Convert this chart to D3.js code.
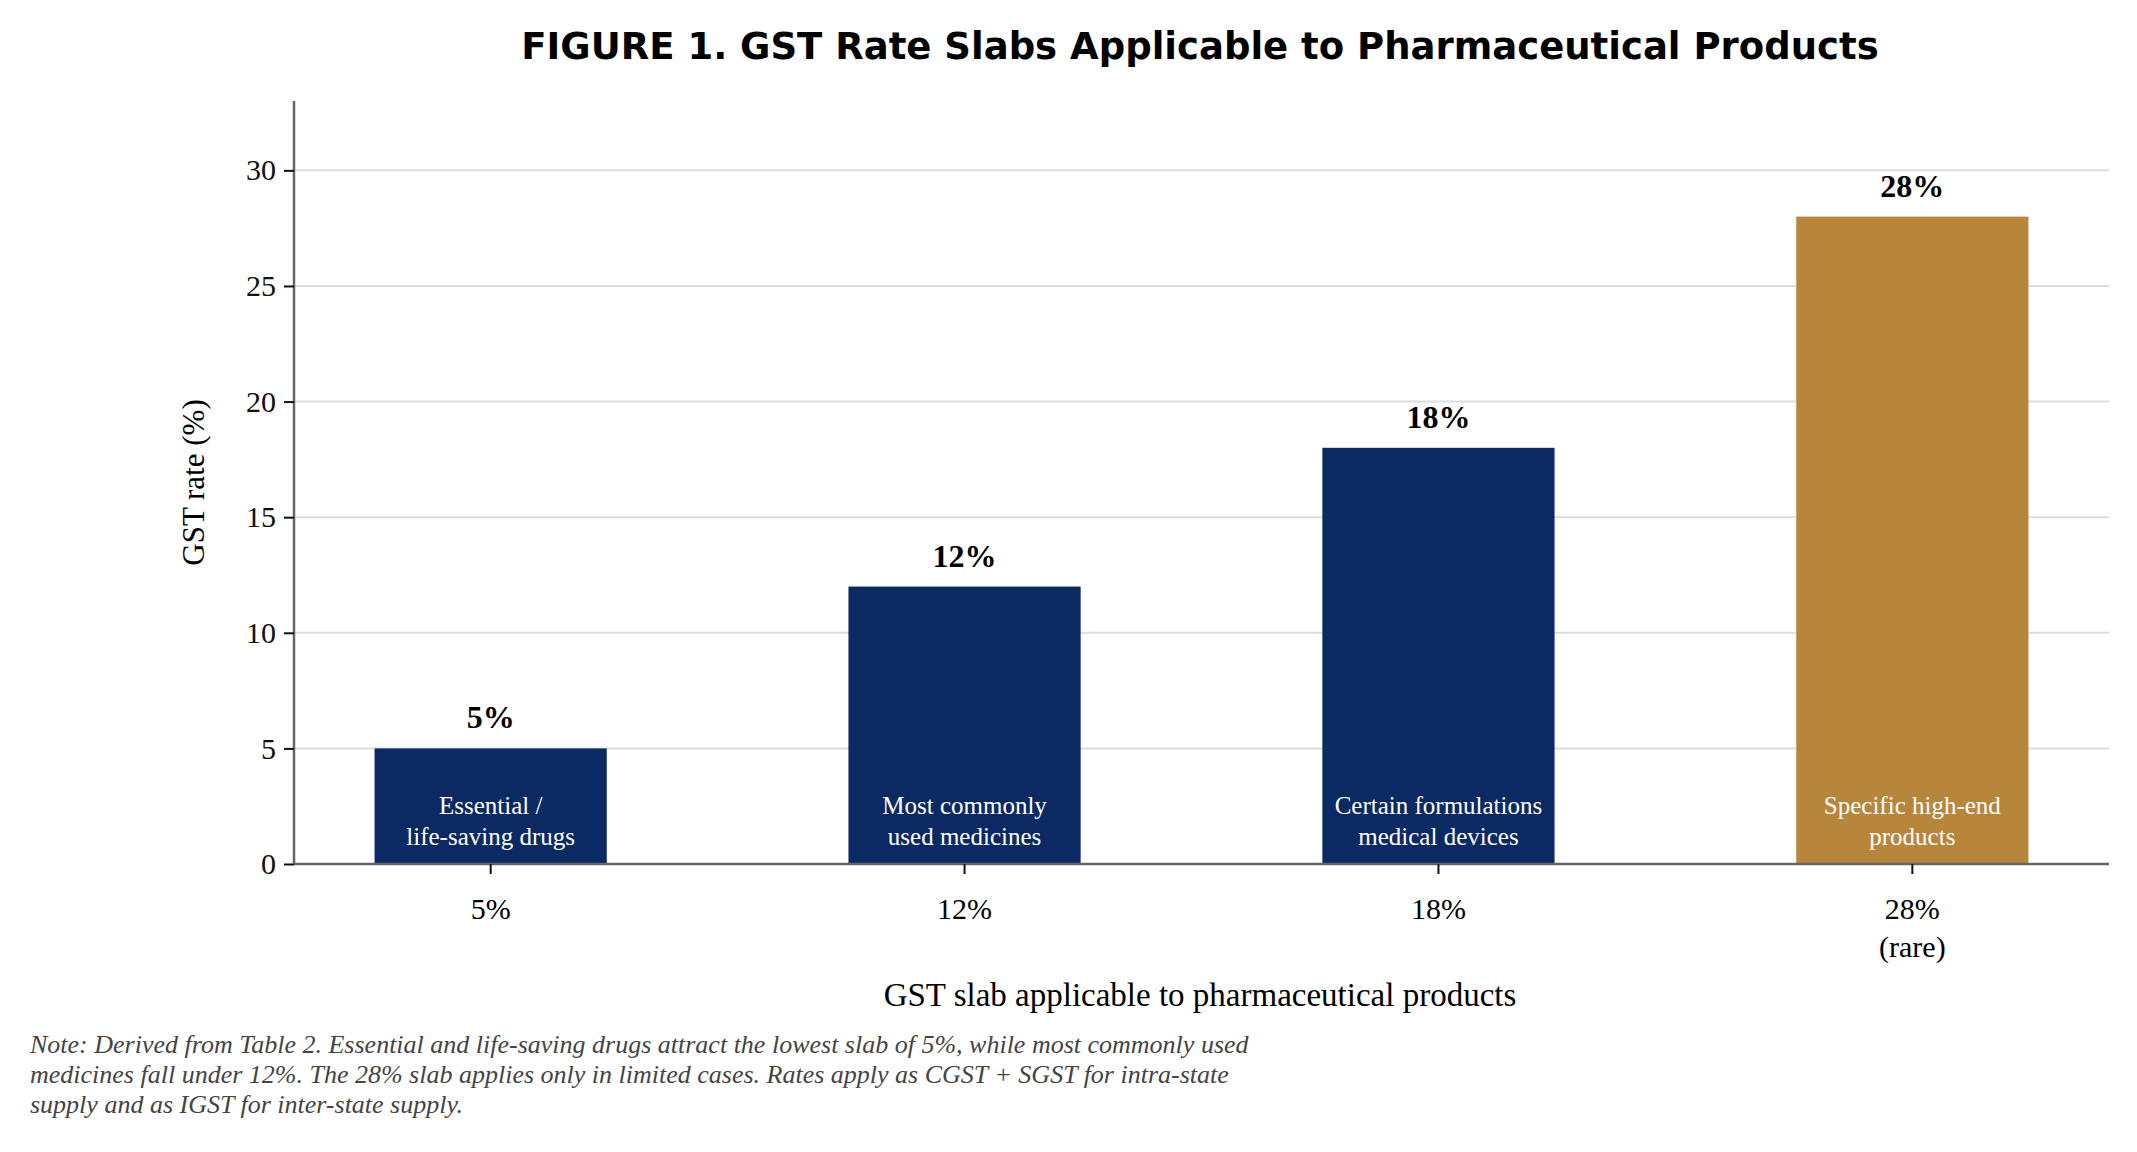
<!DOCTYPE html>
<html>
<head>
<meta charset="utf-8">
<script src="https://cdn.jsdelivr.net/npm/d3@7"></script>
<style>
  body { margin: 0; background: #fff; }
  text { font-family: "Liberation Serif", "DejaVu Serif", serif; }
</style>
</head>
<body>
<div id="chart"></div>
<script>
// data
let slabs = ['5%', '12%', '18%', '28%'];
let slabSub = ['', '', '', '(rare)'];
let rates = [5, 12, 18, 28];
let descLine1 = ['Essential /', 'Most commonly', 'Certain formulations', 'Specific high-end'];
let descLine2 = ['life-saving drugs', 'used medicines', 'medical devices', 'products'];
let barColors = ['#0b2a63', '#0b2a63', '#0b2a63', '#b8863b'];
let yTicks = [0, 5, 10, 15, 20, 25, 30];
let noteLines = [
    'Note: Derived from Table 2. Essential and life-saving drugs attract the lowest slab of 5%, while most commonly used',
    'medicines fall under 12%. The 28% slab applies only in limited cases. Rates apply as CGST + SGST for intra-state',
    'supply and as IGST for inter-state supply.'
];

let W = 2137, H = 1152;
let margin = { top: 101, right: 28, bottom: 288, left: 294 },
    width = W - margin.left - margin.right,
    height = H - margin.top - margin.bottom;

let svg = d3.select('#chart').append('svg')
    .attr('width', W).attr('height', H);

// title
svg.append('text')
    .attr('x', 1200).attr('y', 59)
    .attr('text-anchor', 'middle')
    .style('font-family', '"DejaVu Sans", sans-serif')
    .style('font-weight', 'bold')
    .style('font-size', '37px')
    .text('FIGURE 1.  GST Rate Slabs Applicable to Pharmaceutical Products');

let g = svg.append('g')
    .attr('transform', 'translate(' + margin.left + ',' + margin.top + ')');

let x = d3.scaleBand().domain(slabs).range([0, width]).paddingInner(0.51).paddingOuter(0.17);
let y = d3.scaleLinear().domain([0, 33]).range([height, 0]);

// gridlines
g.selectAll('.grid').data(yTicks.filter(d => d > 0)).enter()
    .append('line')
    .attr('x1', 0).attr('x2', width)
    .attr('y1', d => y(d)).attr('y2', d => y(d))
    .attr('stroke', '#dddddd').attr('stroke-width', 2);

// bars
g.selectAll('.bar').data(rates).enter()
    .append('rect')
    .attr('x', (d, i) => x(slabs[i]))
    .attr('width', x.bandwidth())
    .attr('y', d => y(d))
    .attr('height', d => height - y(d))
    .attr('fill', (d, i) => barColors[i]);

// value labels
g.selectAll('.val').data(rates).enter()
    .append('text')
    .attr('x', (d, i) => x(slabs[i]) + x.bandwidth() / 2)
    .attr('y', d => y(d) - 20)
    .attr('text-anchor', 'middle')
    .style('font-weight', 'bold')
    .style('font-size', '32px')
    .text(d => d + '%');

// labels inside bars
rates.forEach(function (d, i) {
    let cx = x(slabs[i]) + x.bandwidth() / 2;
    [descLine1[i], descLine2[i]].forEach(function (t, j) {
        g.append('text')
            .attr('x', cx).attr('y', height - 50 + j * 31)
            .attr('text-anchor', 'middle')
            .attr('fill', '#ffffff')
            .style('font-size', '25px')
            .text(t);
    });
});

// axes
let yAxis = g.append('g').call(d3.axisLeft(y).tickValues(yTicks).tickSize(10).tickPadding(8));
yAxis.selectAll('text').style('font-size', '30px').attr('fill', '#111');
yAxis.selectAll('line').attr('stroke', '#111').attr('stroke-width', 2);
yAxis.select('.domain').attr('stroke', '#666').attr('stroke-width', 2.5).attr('d', 'M0,0V' + height);

let xAxis = g.append('g').attr('transform', 'translate(0,' + height + ')')
    .call(d3.axisBottom(x).tickSize(10).tickFormat(''));
xAxis.selectAll('line').attr('stroke', '#111').attr('stroke-width', 2);
xAxis.select('.domain').attr('stroke', '#666').attr('stroke-width', 2.5).attr('d', 'M0,0H' + width);

slabs.forEach(function (s, i) {
    let cx = x(s) + x.bandwidth() / 2;
    g.append('text').attr('x', cx).attr('y', height + 55)
        .attr('text-anchor', 'middle').style('font-size', '30px').text(s);
    if (slabSub[i]) {
        g.append('text').attr('x', cx).attr('y', height + 93)
            .attr('text-anchor', 'middle').style('font-size', '30px').text(slabSub[i]);
    }
});

// axis titles
svg.append('text')
    .attr('x', 1200).attr('y', 1006)
    .attr('text-anchor', 'middle')
    .style('font-size', '33px')
    .text('GST slab applicable to pharmaceutical products');

svg.append('text')
    .attr('transform', 'translate(204,' + (margin.top + height / 2) + ') rotate(-90)')
    .attr('text-anchor', 'middle')
    .style('font-size', '31px')
    .text('GST rate (%)');

// note
noteLines.forEach(function (t, i) {
    svg.append('text')
        .attr('x', 30).attr('y', 1053 + i * 30)
        .attr('fill', '#444')
        .style('font-style', 'italic')
        .style('font-size', '26px')
        .text(t);
});
</script>
</body>
</html>
